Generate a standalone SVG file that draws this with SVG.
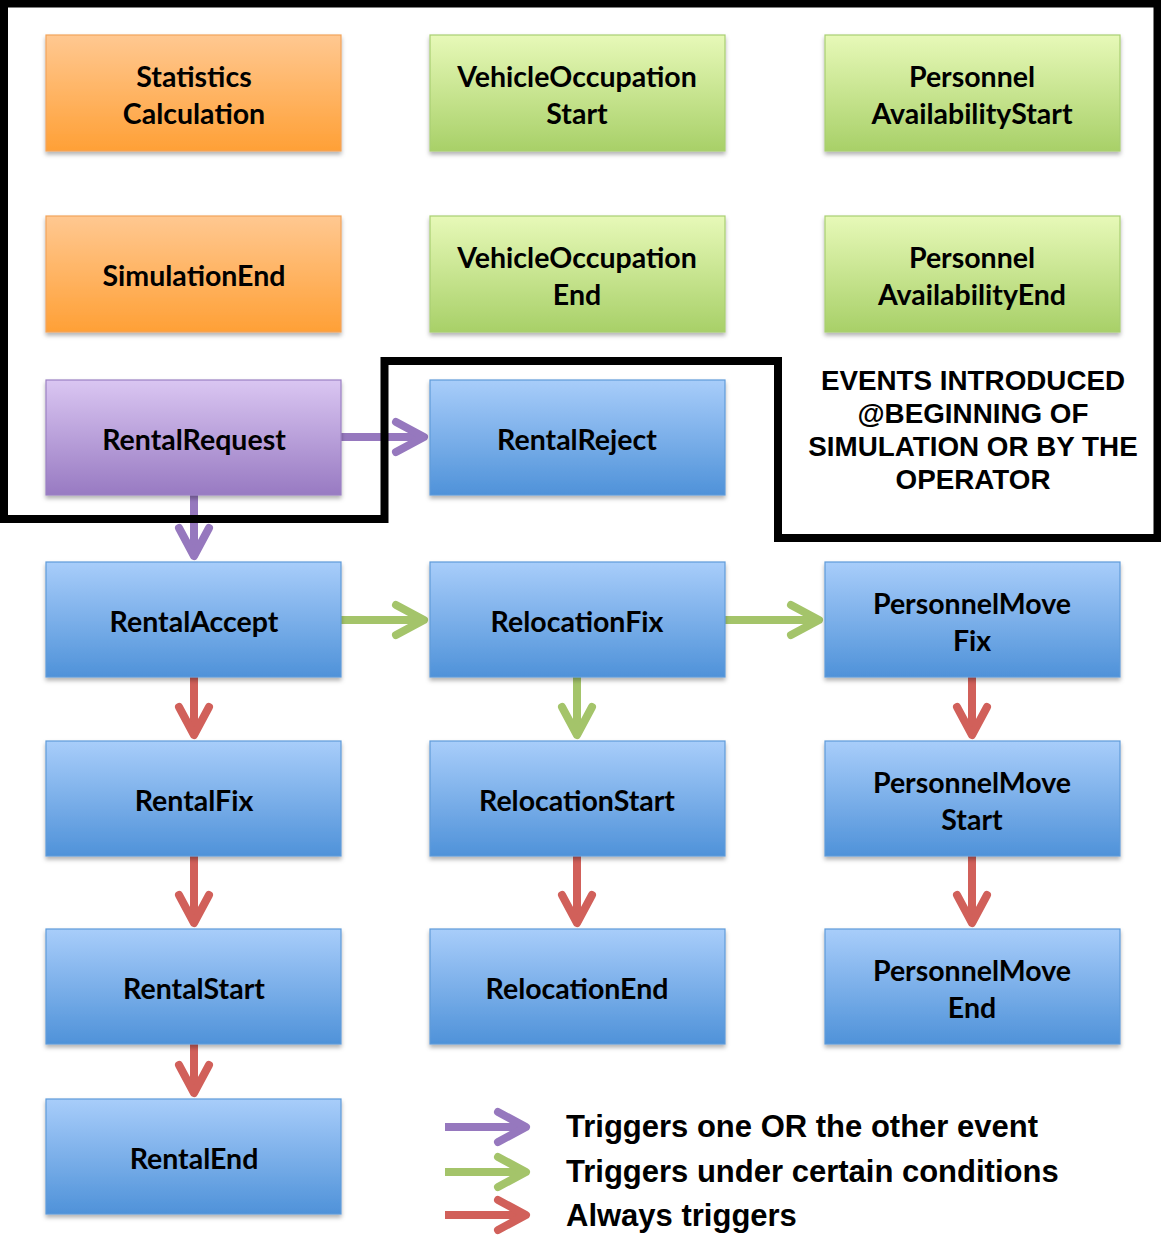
<svg xmlns="http://www.w3.org/2000/svg" width="1161" height="1236" viewBox="0 0 1161 1236">
<defs>
<linearGradient id="gOrange" x1="0" y1="0" x2="0" y2="1"><stop offset="0" stop-color="#FFC891"/><stop offset="1" stop-color="#FFA036"/></linearGradient>
<linearGradient id="gGreen" x1="0" y1="0" x2="0" y2="1"><stop offset="0" stop-color="#E7F9B8"/><stop offset="1" stop-color="#A8D068"/></linearGradient>
<linearGradient id="gPurple" x1="0" y1="0" x2="0" y2="1"><stop offset="0" stop-color="#DAC6F2"/><stop offset="1" stop-color="#987AC2"/></linearGradient>
<linearGradient id="gBlue" x1="0" y1="0" x2="0" y2="1"><stop offset="0" stop-color="#A8CDFA"/><stop offset="1" stop-color="#4F92D9"/></linearGradient>
<filter id="sh" x="-5%" y="-5%" width="110%" height="120%"><feDropShadow dx="0" dy="3" stdDeviation="2" flood-color="#000" flood-opacity="0.3"/></filter>
<marker id="mP" markerUnits="userSpaceOnUse" markerWidth="40" markerHeight="40" refX="32" refY="19" orient="auto" overflow="visible"><path d="M4,4 L32,19 L4,34" fill="none" stroke="#9678BE" stroke-width="8" stroke-linecap="round" stroke-linejoin="round"/></marker>
<marker id="mG" markerUnits="userSpaceOnUse" markerWidth="40" markerHeight="40" refX="32" refY="19" orient="auto" overflow="visible"><path d="M4,4 L32,19 L4,34" fill="none" stroke="#A4C46A" stroke-width="8" stroke-linecap="round" stroke-linejoin="round"/></marker>
<marker id="mR" markerUnits="userSpaceOnUse" markerWidth="40" markerHeight="40" refX="32" refY="19" orient="auto" overflow="visible"><path d="M4,4 L32,19 L4,34" fill="none" stroke="#D1605A" stroke-width="8" stroke-linecap="round" stroke-linejoin="round"/></marker>
</defs>
<style>
.box{stroke-width:1.2;filter:url(#sh)}
.o{fill:url(#gOrange);stroke:#F2A45C}
.g{fill:url(#gGreen);stroke:#A9CF72}
.p{fill:url(#gPurple);stroke:#9B80C4}
.b{fill:url(#gBlue);stroke:#5F9BD9}
.t{font-family:Lato,"Open Sans","DejaVu Sans",sans-serif;font-weight:bold;font-size:28.5px;fill:#000;text-anchor:middle}
.lg{font-family:"Liberation Sans",Arial,sans-serif;font-weight:bold;font-size:31px;fill:#000}
.ev{font-family:"Liberation Sans",Arial,sans-serif;font-weight:bold;font-size:27.8px;fill:#000;text-anchor:middle}
.ap{stroke:#9678BE;stroke-width:8;fill:none;marker-end:url(#mP)}
.ag{stroke:#A4C46A;stroke-width:8;fill:none;marker-end:url(#mG)}
.ar{stroke:#D1605A;stroke-width:8;fill:none;marker-end:url(#mR)}
</style>
<rect width="1161" height="1236" fill="#fff"/>

<g id="connectors">
<line class="ap" x1="341" y1="437" x2="424" y2="437"/>
<line class="ap" x1="194" y1="495" x2="194" y2="556"/>
<line class="ag" x1="341" y1="620" x2="424" y2="620"/>
<line class="ag" x1="725" y1="620" x2="819" y2="620"/>
<line class="ag" x1="577" y1="677" x2="577" y2="735"/>
<line class="ar" x1="194" y1="677" x2="194" y2="735"/>
<line class="ar" x1="194" y1="856" x2="194" y2="923"/>
<line class="ar" x1="194" y1="1044" x2="194" y2="1093"/>
<line class="ar" x1="577" y1="856" x2="577" y2="923"/>
<line class="ar" x1="972" y1="677" x2="972" y2="735"/>
<line class="ar" x1="972" y1="856" x2="972" y2="923"/>
</g>

<g id="StatisticsCalculation"><rect class="box o" x="46" y="35" width="295" height="116"/><text class="t" x="194" y="87">Statistics</text><text class="t" x="194" y="124">Calculation</text></g>
<g id="VehicleOccupationStart"><rect class="box g" x="430" y="35" width="295" height="116"/><text class="t" x="577" y="87">VehicleOccupation</text><text class="t" x="577" y="124">Start</text></g>
<g id="PersonnelAvailabilityStart"><rect class="box g" x="825" y="35" width="295" height="116"/><text class="t" x="972" y="87">Personnel</text><text class="t" x="972" y="124">AvailabilityStart</text></g>

<g id="SimulationEnd"><rect class="box o" x="46" y="216" width="295" height="116"/><text class="t" x="194" y="286">SimulationEnd</text></g>
<g id="VehicleOccupationEnd"><rect class="box g" x="430" y="216" width="295" height="116"/><text class="t" x="577" y="268">VehicleOccupation</text><text class="t" x="577" y="305">End</text></g>
<g id="PersonnelAvailabilityEnd"><rect class="box g" x="825" y="216" width="295" height="116"/><text class="t" x="972" y="268">Personnel</text><text class="t" x="972" y="305">AvailabilityEnd</text></g>

<g id="RentalRequest"><rect class="box p" x="46" y="380" width="295" height="115"/><text class="t" x="194" y="450">RentalRequest</text></g>
<g id="RentalReject"><rect class="box b" x="430" y="380" width="295" height="115"/><text class="t" x="577" y="450">RentalReject</text></g>

<g id="RentalAccept"><rect class="box b" x="46" y="562" width="295" height="115"/><text class="t" x="194" y="632">RentalAccept</text></g>
<g id="RelocationFix"><rect class="box b" x="430" y="562" width="295" height="115"/><text class="t" x="577" y="632">RelocationFix</text></g>
<g id="PersonnelMoveFix"><rect class="box b" x="825" y="562" width="295" height="115"/><text class="t" x="972" y="614">PersonnelMove</text><text class="t" x="972" y="651">Fix</text></g>

<g id="RentalFix"><rect class="box b" x="46" y="741" width="295" height="115"/><text class="t" x="194" y="811">RentalFix</text></g>
<g id="RelocationStart"><rect class="box b" x="430" y="741" width="295" height="115"/><text class="t" x="577" y="811">RelocationStart</text></g>
<g id="PersonnelMoveStart"><rect class="box b" x="825" y="741" width="295" height="115"/><text class="t" x="972" y="793">PersonnelMove</text><text class="t" x="972" y="830">Start</text></g>

<g id="RentalStart"><rect class="box b" x="46" y="929" width="295" height="115"/><text class="t" x="194" y="999">RentalStart</text></g>
<g id="RelocationEnd"><rect class="box b" x="430" y="929" width="295" height="115"/><text class="t" x="577" y="999">RelocationEnd</text></g>
<g id="PersonnelMoveEnd"><rect class="box b" x="825" y="929" width="295" height="115"/><text class="t" x="972" y="981">PersonnelMove</text><text class="t" x="972" y="1018">End</text></g>

<g id="RentalEnd"><rect class="box b" x="46" y="1099" width="295" height="115"/><text class="t" x="194" y="1169">RentalEnd</text></g>

<g id="boundary">
<path d="M4,3.5 H1157.5 V538 H778 V361 H384.5 V519 H4 Z" fill="none" stroke="#000" stroke-width="8" stroke-linejoin="miter"/>
<text class="ev" x="973" y="390">EVENTS INTRODUCED</text>
<text class="ev" x="973" y="423">@BEGINNING OF</text>
<text class="ev" x="973" y="456">SIMULATION OR BY THE</text>
<text class="ev" x="973" y="489">OPERATOR</text>
</g>

<g id="legend">
<line class="ap" x1="445" y1="1127" x2="526" y2="1127"/>
<line class="ag" x1="445" y1="1172" x2="526" y2="1172"/>
<line class="ar" x1="445" y1="1215" x2="526" y2="1215"/>
<text class="lg" x="566" y="1137">Triggers one OR the other event</text>
<text class="lg" x="566" y="1182">Triggers under certain conditions</text>
<text class="lg" x="566" y="1226">Always triggers</text>
</g>
</svg>
